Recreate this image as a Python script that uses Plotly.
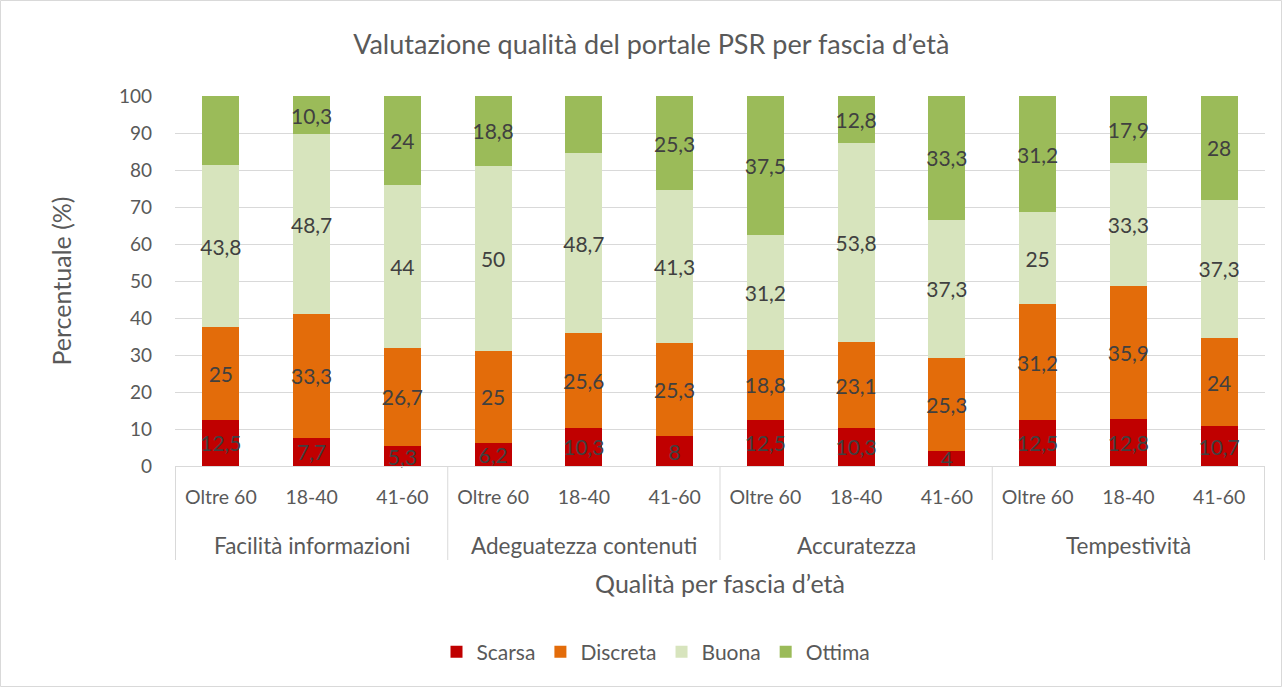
import plotly.graph_objects as go

group_names = ["Facilità informazioni", "Adeguatezza contenuti", "Accuratezza", "Tempestività"]
age_names = ["Oltre 60", "18-40", "41-60"]

scarsa = [12.5, 7.7, 5.3, 6.2, 10.3, 8, 12.5, 10.3, 4, 12.5, 12.8, 10.7]
discreta = [25, 33.3, 26.7, 25, 25.6, 25.3, 18.8, 23.1, 25.3, 31.2, 35.9, 24]
buona = [43.8, 48.7, 44, 50, 48.7, 41.3, 31.2, 53.8, 37.3, 25, 33.3, 37.3]
ottima = [18.8, 10.3, 24, 18.8, 15.4, 25.3, 37.5, 12.8, 33.3, 31.2, 17.9, 28]

series = [
    ("Scarsa", scarsa, "#c00000"),
    ("Discreta", discreta, "#e36c0a"),
    ("Buona", buona, "#d7e4bd"),
    ("Ottima", ottima, "#9bbb59"),
]

# unique category keys (group | age), shown with the age as tick text
cats = [f"{g}|{a}" for g in group_names for a in age_names]
tick_text = [a for g in group_names for a in age_names]

FONT = "Lato, Open Sans, sans-serif"
TXT = "#595959"
GRID = "#d9d9d9"

def fmt(v):
    return ("%g" % v).replace(".", ",")

fig = go.Figure()
for name, vals, col in series:
    fig.add_trace(go.Bar(
        name=name,
        x=cats,
        y=vals,
        marker=dict(color=col, line=dict(width=0)),
        text=[fmt(v) for v in vals],
        textposition="inside",
        insidetextanchor="middle",
        textangle=0,
        constraintext="none",
        textfont=dict(size=21, color="#404040", family=FONT),
        cliponaxis=False,
    ))

PW, PH, L, T = 1090, 370, 175, 96

fig.update_layout(
    barmode="stack",
    bargap=0.59,
    width=1282, height=687,
    margin=dict(l=L, r=17, t=T, b=221),
    paper_bgcolor="white",
    plot_bgcolor="white",
    font=dict(family=FONT, color=TXT),
    title=dict(text="Valutazione qualità del portale PSR per fascia d’età",
               x=0.508, xanchor="center", y=1 - 45 / 687, yanchor="middle",
               font=dict(size=27, color=TXT, family=FONT)),
    legend=dict(orientation="h", x=(656 - L) / PW, xanchor="center",
                y=(T + PH - 652) / PH, yanchor="middle",
                font=dict(size=21, color=TXT, family=FONT), traceorder="normal"),
    showlegend=True,
)

fig.update_xaxes(
    type="category",
    categoryorder="array", categoryarray=cats,
    tickmode="array", tickvals=cats, ticktext=tick_text,
    showline=True, linecolor=GRID, linewidth=1,
    showgrid=False,
    tickfont=dict(size=19.5, color=TXT, family=FONT),
    ticks="",
    ticklabelstandoff=14,
    title=dict(text="Qualità per fascia d’età", font=dict(size=25, color=TXT, family=FONT), standoff=68),
)
fig.update_yaxes(
    range=[0, 100], dtick=10,
    showgrid=True, gridcolor=GRID, gridwidth=1,
    zeroline=False,
    tickfont=dict(size=19, color=TXT, family=FONT),
    ticklabelstandoff=22,
    title=dict(text="Percentuale (%)", font=dict(size=25, color=TXT, family=FONT), standoff=40),
)

# group labels below the age tick labels
for gi, g in enumerate(group_names):
    fig.add_annotation(text=g, xref="x", yref="paper", x=gi * 3 + 1, y=(T + PH - 545) / PH,
                       showarrow=False, xanchor="center", yanchor="middle",
                       font=dict(size=22.5, color=TXT, family=FONT))

# vertical dividers between groups
for k in range(len(group_names) + 1):
    fig.add_shape(type="line", xref="x", yref="paper", x0=k * 3 - 0.5, x1=k * 3 - 0.5,
                  y0=0, y1=(T + PH - 560) / PH, line=dict(color=GRID, width=1))

fig.add_shape(type="rect", xref="paper", yref="paper",
              x0=(0.5 - L) / PW, x1=(1281.5 - L) / PW,
              y0=(T + PH - 686.5) / PH, y1=(T + PH - 0.5) / PH,
              line=dict(color=GRID, width=1), fillcolor="rgba(0,0,0,0)", layer="below")

fig.write_html("out.html", config={"displayModeBar": False},
               post_script="document.body.style.margin='0';document.body.style.overflow='hidden';")
